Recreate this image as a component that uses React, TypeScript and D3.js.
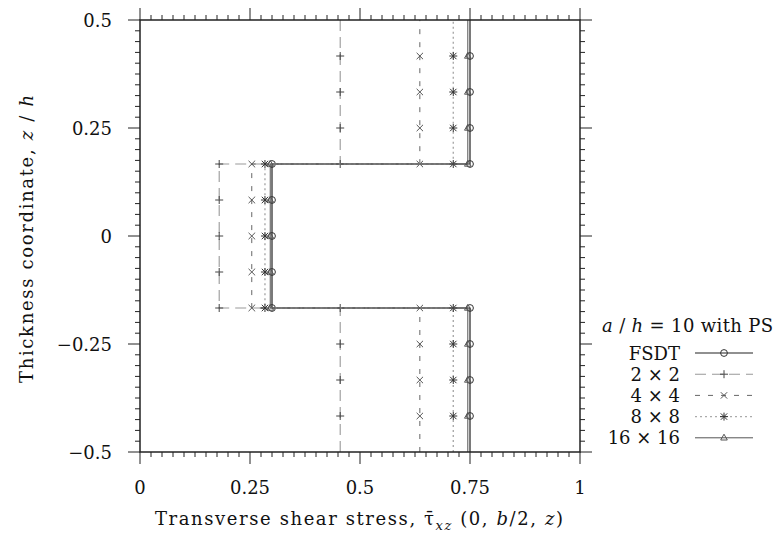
import React from "react";
import * as d3 from "d3";

// z / h sample positions (two values at each interface)
const zPoints = [-0.5, -5 / 12, -1 / 3, -1 / 4, -1 / 6, -1 / 6, -1 / 12, 0, 1 / 12, 1 / 6, 1 / 6, 1 / 4, 1 / 3, 5 / 12, 0.5];

const fsdt = [0.75, 0.75, 0.75, 0.75, 0.75, 0.3, 0.3, 0.3, 0.3, 0.3, 0.75, 0.75, 0.75, 0.75, 0.75];
const mesh2 = [0.455, 0.455, 0.455, 0.455, 0.455, 0.18, 0.18, 0.18, 0.18, 0.18, 0.455, 0.455, 0.455, 0.455, 0.455];
const mesh4 = [0.636, 0.636, 0.636, 0.636, 0.636, 0.254, 0.254, 0.254, 0.254, 0.254, 0.636, 0.636, 0.636, 0.636, 0.636];
const mesh8 = [0.712, 0.712, 0.712, 0.712, 0.712, 0.284, 0.284, 0.284, 0.284, 0.284, 0.712, 0.712, 0.712, 0.712, 0.712];
const mesh16 = [0.745, 0.745, 0.745, 0.745, 0.745, 0.296, 0.296, 0.296, 0.296, 0.296, 0.745, 0.745, 0.745, 0.745, 0.745];

const seriesNames = ["FSDT", "2 × 2", "4 × 4", "8 × 8", "16 × 16"];
const seriesValues = [fsdt, mesh2, mesh4, mesh8, mesh16];

const xTicks = [0, 0.25, 0.5, 0.75, 1];
const xTickLabels = ["0", "0.25", "0.5", "0.75", "1"];
const yTicks = [0.5, 0.25, 0, -0.25, -0.5];
const yTickLabels = ["0.5", "0.25", "0", "\u22120.25", "\u22120.5"];

const styles = [
  { stroke: "#222", dash: "", marker: "circle", mcolor: "#333", width: 1.2 },
  { stroke: "#999", dash: "11,6", marker: "plus", mcolor: "#444", width: 1.1 },
  { stroke: "#666", dash: "5,8", marker: "cross", mcolor: "#555", width: 1 },
  { stroke: "#aaa", dash: "2,3", marker: "star", mcolor: "#333", width: 1.4 },
  { stroke: "#555", dash: "", marker: "tri", mcolor: "#555", width: 1 },
];

const FONT = "'DejaVu Serif', serif";
const FS = 18;

function markerPath(kind: string, x: number, y: number): string {
  const p = d3.path();
  if (kind === "circle") {
    p.moveTo(x + 3.4, y);
    p.arc(x, y, 3.4, 0, Math.PI * 2);
  } else if (kind === "plus") {
    p.moveTo(x - 4, y); p.lineTo(x + 4, y);
    p.moveTo(x, y - 4); p.lineTo(x, y + 4);
  } else if (kind === "cross") {
    p.moveTo(x - 3.2, y - 3.2); p.lineTo(x + 3.2, y + 3.2);
    p.moveTo(x - 3.2, y + 3.2); p.lineTo(x + 3.2, y - 3.2);
  } else if (kind === "star") {
    p.moveTo(x - 3.2, y - 3.2); p.lineTo(x + 3.2, y + 3.2);
    p.moveTo(x - 3.2, y + 3.2); p.lineTo(x + 3.2, y - 3.2);
    p.moveTo(x - 4, y); p.lineTo(x + 4, y);
    p.moveTo(x, y - 4); p.lineTo(x, y + 4);
  } else if (kind === "tri") {
    p.moveTo(x, y - 3.6); p.lineTo(x + 3.3, y + 2.2); p.lineTo(x - 3.3, y + 2.2); p.closePath();
  }
  return p.toString();
}

export default function App() {
  const W = 776, H = 538;
  const x0 = 140, x1 = 580, y0 = 20, y1 = 452;
  const x = d3.scaleLinear().domain([0, 1]).range([x0, x1]);
  const y = d3.scaleLinear().domain([-0.5, 0.5]).range([y1, y0]);
  const minorX = d3.range(0, 41).map((i) => i * 0.025);
  const minorY = d3.range(0, 41).map((i) => -0.5 + i * 0.025);

  const line = d3.line<[number, number]>().x((d) => x(d[0])).y((d) => y(d[1]));

  const tickColor = "#222";
  const legendY = (i: number) => 353 + i * 21.2;

  return (
    <svg width={W} height={H} style={{ position: "absolute", left: 0, top: 0, background: "#fff" }} fontFamily={FONT}>
      <rect x={0} y={0} width={W} height={H} fill="#fff" />
      {/* ticks */}
      <g stroke={tickColor} strokeWidth={1}>
        {minorX.map((v, i) => (
          <g key={"mx" + i}>
            <line x1={x(v)} x2={x(v)} y1={y1} y2={y1 + (i % 10 === 0 ? 12 : 5)} />
            <line x1={x(v)} x2={x(v)} y1={y0} y2={y0 - (i % 10 === 0 ? 12 : 5)} />
          </g>
        ))}
        {minorY.map((v, i) => (
          <g key={"my" + i}>
            <line y1={y(v)} y2={y(v)} x1={x0} x2={x0 - (i % 10 === 0 ? 12 : 5)} />
            <line y1={y(v)} y2={y(v)} x1={x1} x2={x1 + (i % 10 === 0 ? 12 : 5)} />
          </g>
        ))}
      </g>
      {/* series */}
      {seriesValues.map((vals, si) => {
        const st = styles[si];
        const pts: [number, number][] = vals.map((v, i) => [v, zPoints[i]]);
        return (
          <g key={"s" + si}>
            <path d={line(pts) || ""} fill="none" stroke={st.stroke} strokeWidth={st.width} strokeDasharray={st.dash} />
            {pts.slice(1, pts.length - 1).map((p, i) => (
              <path key={i} d={markerPath(st.marker, x(p[0]), y(p[1]))} fill="none" stroke={st.mcolor} strokeWidth={1} />
            ))}
          </g>
        );
      })}
      {/* frame */}
      <rect x={x0} y={y0} width={x1 - x0} height={y1 - y0} fill="none" stroke="#222" strokeWidth={1.5} />
      {/* tick labels */}
      {xTicks.map((v, i) => (
        <text key={"xl" + i} x={x(v)} y={494} textAnchor="middle" fontSize={FS} fill="#111">{xTickLabels[i]}</text>
      ))}
      {yTicks.map((v, i) => (
        <text key={"yl" + i} x={112} y={y(v) + 6.5} textAnchor="end" fontSize={FS} fill="#111">{yTickLabels[i]}</text>
      ))}
      {/* x title */}
      <text x={155} y={525} fontSize={FS} fill="#111" textLength={408} lengthAdjust="spacing">
        Transverse shear stress, {"\u03C4\u0304"}
        <tspan fontStyle="italic" fontSize={13} dy={5}>xz</tspan>
        <tspan dy={-5}> (0, </tspan>
        <tspan fontStyle="italic">b</tspan>
        <tspan>/2, </tspan>
        <tspan fontStyle="italic">z</tspan>
        <tspan>)</tspan>
      </text>
      {/* y title */}
      <text transform={`translate(33,383) rotate(-90)`} fontSize={FS} fill="#111" textLength={288} lengthAdjust="spacing">
        Thickness coordinate, <tspan fontStyle="italic">z</tspan> / <tspan fontStyle="italic">h</tspan>
      </text>
      {/* legend */}
      <text x={602} y={332} fontSize={FS} fill="#111" textLength={171} lengthAdjust="spacing">
        <tspan fontStyle="italic">a</tspan> / <tspan fontStyle="italic">h</tspan> = 10 with PS
      </text>
      {seriesNames.map((name, i) => {
        const st = styles[i];
        const ly = legendY(i);
        return (
          <g key={"lg" + i}>
            <text x={680} y={ly + 6.5} textAnchor="end" fontSize={FS} fill="#111">{name}</text>
            <line x1={695} x2={753} y1={ly} y2={ly} stroke={st.stroke} strokeWidth={st.width} strokeDasharray={st.dash} />
            <path d={markerPath(st.marker, 724, ly)} fill="none" stroke={st.mcolor} strokeWidth={1} />
          </g>
        );
      })}
    </svg>
  );
}
